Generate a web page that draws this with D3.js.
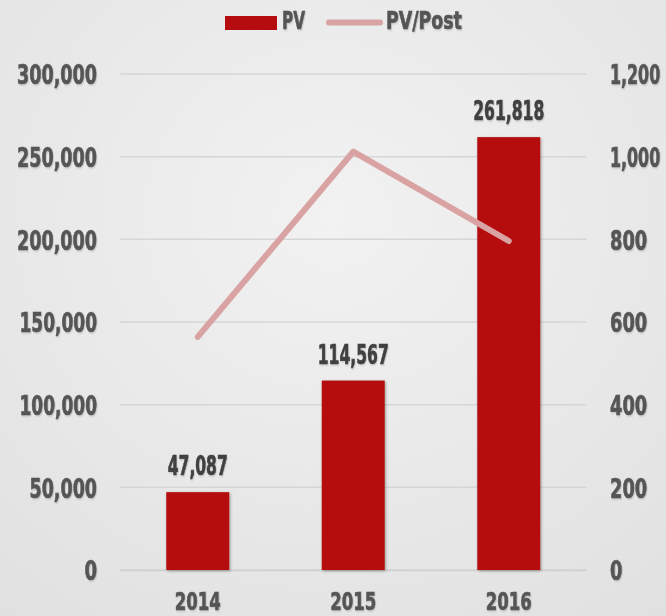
<!DOCTYPE html>
<html><head><meta charset="utf-8">
<script src="https://cdn.jsdelivr.net/npm/d3@7/dist/d3.min.js"></script>
<style>
html,body{margin:0;padding:0;}
svg{display:block;}
text{font-family:Impact,"DejaVu Sans Condensed","Liberation Sans Narrow",sans-serif;font-weight:bold;}
</style></head>
<body>
<script>
const categories = ["2014","2015","2016"];
const pv = [47087,114567,261818];
const pvPerPost = [564,1012,796];
const leftTicks = [0,50000,100000,150000,200000,250000,300000];
const rightTicks = [0,200,400,600,800,1000,1200];

const W=666,H=616;
const svg=d3.select("body").append("svg").attr("width",W).attr("height",H);
const defs=svg.append("defs");
const g1=defs.append("radialGradient").attr("id","bg").attr("cx","50%").attr("cy","35%").attr("r","85%");
g1.append("stop").attr("offset","0%").attr("stop-color","#f2f2f2");
g1.append("stop").attr("offset","100%").attr("stop-color","#e0e0e0");
const f=defs.append("filter").attr("id","sh").attr("x","-20%").attr("y","-20%").attr("width","140%").attr("height","140%");
f.append("feDropShadow").attr("dx",1).attr("dy",1).attr("stdDeviation",1.5).attr("flood-color","#000").attr("flood-opacity",0.35);
const ft=defs.append("filter").attr("id","tsh").attr("x","-5%").attr("y","-10%").attr("width","110%").attr("height","130%");
ft.append("feDropShadow").attr("dx",1).attr("dy",1).attr("stdDeviation",0.8).attr("flood-color","#000").attr("flood-opacity",0.2);

svg.append("rect").attr("width",W).attr("height",H).attr("fill","url(#bg)");

const x0=120,x1=586.5,yTop=74,yBot=570;
const x=d3.scaleBand().domain(categories).range([x0,x1]).paddingInner(0.595).paddingOuter(0.2975);
const yL=d3.scaleLinear().domain([0,300000]).range([yBot,yTop]);
const yR=d3.scaleLinear().domain([0,1200]).range([yBot,yTop]);

svg.append("g").selectAll("line").data(leftTicks).join("line")
 .attr("x1",x0).attr("x2",x1).attr("y1",d=>yL(d)).attr("y2",d=>yL(d))
 .attr("stroke","#d6d6d6").attr("stroke-width",1.5);

const fmt=d3.format(",");
const ff='Impact,"DejaVu Sans Condensed","Liberation Sans Narrow",sans-serif';
function numWidth(s,d,d1,c){let w=0;for(const ch of s){w+= ch===","?c:(ch==="1"?d1:d);}return w;}
// squeeze each text horizontally to a target width (mimics a narrow heavy face)
function styleT(sel,fill,fs,wfn){
  sel.attr("font-size",fs).attr("fill",fill).attr("stroke",fill).attr("stroke-width",0.6)
   .style("font-family",ff).style("font-weight","bold")
   .each(function(){
     const t=d3.select(this);
     const ax=+t.attr("x")||0, ay=+t.attr("y")||0;
     const w=this.getComputedTextLength();
     const sx=wfn(this.textContent)/w;
     t.attr("x",0).attr("y",0).attr("transform",`translate(${ax},${ay}) scale(${sx},1)`);
   });
}
const la=svg.append("g").attr("transform",`translate(97,0)`)
 .call(d3.axisLeft(yL).tickValues(leftTicks).tickFormat(fmt).tickSize(0).tickPadding(0));
la.select(".domain").remove();
styleT(la.selectAll("text"),"#555",27,s=>numWidth(s,12.6,10,4.5)); la.selectAll("text").attr("dy","0.36em");

const ra=svg.append("g").attr("transform",`translate(610,0)`)
 .call(d3.axisRight(yR).tickValues(rightTicks).tickFormat(fmt).tickSize(0).tickPadding(0));
ra.select(".domain").remove();
styleT(ra.selectAll("text"),"#555",27,s=>numWidth(s,12.4,9,4)); ra.selectAll("text").attr("dy","0.36em");

const ba=svg.append("g").attr("transform",`translate(0,${yBot})`)
 .call(d3.axisBottom(x).tickSize(0));
ba.select(".domain").attr("stroke","#d0d0d0").attr("stroke-width",1.5);
ba.selectAll("text").attr("y",40).attr("dy",0);
styleT(ba.selectAll("text"),"#555",25,s=>numWidth(s,12,10,4.5));

svg.append("g").selectAll("rect").data(categories).join("rect")
 .attr("x",d=>x(d)).attr("width",x.bandwidth())
 .attr("y",(d,i)=>yL(pv[i])).attr("height",(d,i)=>yBot-yL(pv[i]))
 .attr("fill","#b50d0f").attr("filter","url(#sh)");

const bl=svg.append("g").selectAll("text").data(categories).join("text")
 .attr("x",d=>x(d)+x.bandwidth()/2).attr("y",(d,i)=>yL(pv[i])-17)
 .attr("text-anchor","middle").text((d,i)=>fmt(pv[i]));
styleT(bl,"#404040",26,s=>numWidth(s,11,11,5));

const line=d3.line().x((d,i)=>x(categories[i])+x.bandwidth()/2).y(d=>yR(d));
svg.append("path").datum(pvPerPost).attr("d",line).attr("fill","none")
 .attr("stroke","#d9a3a3").attr("stroke-width",6).attr("stroke-linecap","round").attr("stroke-linejoin","round");

const lg=svg.append("g");
lg.append("rect").attr("x",225).attr("y",16).attr("width",52).attr("height",14).attr("fill","#b50d0f");
styleT(lg.append("text").attr("x",282).attr("y",29).text("PV"),"#555",24,()=>23);
lg.append("line").attr("x1",329).attr("x2",380).attr("y1",22.5).attr("y2",22.5).attr("stroke","#d9a3a3").attr("stroke-width",6).attr("stroke-linecap","round");
styleT(lg.append("text").attr("x",386).attr("y",29).text("PV/Post"),"#555",24,()=>76);

// subtle text shadow on all labels
svg.selectAll("text").attr("filter","url(#tsh)");
</script>
</body></html>
